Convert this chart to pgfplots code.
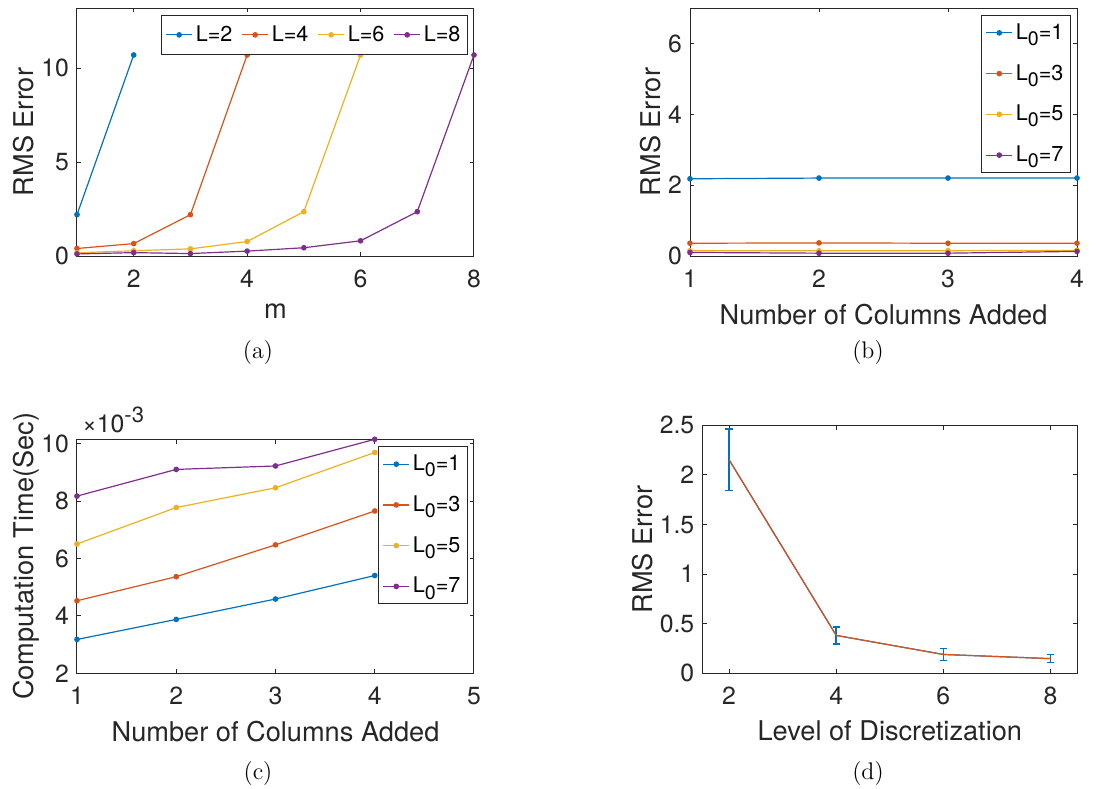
\documentclass[border=0pt]{standalone}
\usepackage{fontspec}
\newfontfamily\hel{TeX Gyre Heros}
\usepackage{pgfplots}
\pgfplotsset{compat=1.18}
\definecolor{mb}{HTML}{0072BD}
\definecolor{mo}{HTML}{D95319}
\definecolor{my}{HTML}{EDB120}
\definecolor{mp}{HTML}{7E2F8E}
\definecolor{axgray}{HTML}{262626}
\newcommand{\Lz}[1]{L\raisebox{-0.55ex}{\fontsize{9.8}{10}\selectfont 0}=#1}
\pgfplotsset{
  mat/.style={
    scale only axis,
    axis line style={axgray, line width=0.5pt},
    tick style={axgray, line width=0.5pt},
    tick align=inside,
    major tick length=2.2pt,
    xtick pos=both, ytick pos=both,
    tick label style={font=\hel\fontsize{12.4}{13}\selectfont, text=axgray},
    x tick label style={yshift=-3.5pt},
    y tick label style={xshift=-0.5pt},
    label style={font=\hel\fontsize{13.6}{15}\selectfont, text=axgray},
    xlabel style={yshift=-1pt},
    ylabel style={text depth=0pt, yshift=-3pt},
    /pgf/number format/assume math mode=true,
    scaled ticks=false,
    legend style={font=\hel\fontsize{10.8}{12}\selectfont, draw=axgray, line width=0.5pt, text=black, inner sep=2pt, nodes={inner xsep=1.5pt}},
    legend cell align=left,
    legend image code/.code={\draw[mark repeat=2,mark phase=2] plot coordinates {(0cm,0cm) (0.23cm,0cm) (0.46cm,0cm)};},
  },
  ln/.style={#1, line width=0.6pt, mark=*, mark size=1.1pt, mark options={solid, fill=#1, draw=#1}},
}
\begin{document}
\begin{tikzpicture}
\path[use as bounding box] (0,0) rectangle (552pt,-394pt);
% (a)
\begin{axis}[mat, at={(38.5pt,-128pt)}, anchor=south west, width=198.5pt, height=124pt,
  xmin=1, xmax=8, ymin=0, ymax=13.2, xtick={2,4,6,8}, ytick={0,5,10},
  xlabel={m}, ylabel={RMS Error},
  legend columns=4,
  legend style={at={(1,1)}, anchor=north east, xshift=-3pt, yshift=-3.5pt, inner ysep=3pt, /tikz/every even column/.append style={column sep=3pt}}]
\addplot[ln=mb] coordinates {(1,2.2) (2,10.7)};
\addlegendentry{L=2}
\addplot[ln=mo] coordinates {(1,0.4) (2,0.66) (3,2.2) (4,10.7)};
\addlegendentry{L=4}
\addplot[ln=my] coordinates {(1,0.17) (2,0.28) (3,0.38) (4,0.77) (5,2.36) (6,10.7)};
\addlegendentry{L=6}
\addplot[ln=mp] coordinates {(1,0.11) (2,0.18) (3,0.13) (4,0.26) (5,0.44) (6,0.81) (7,2.36) (8,10.7)};
\addlegendentry{L=8}
\end{axis}
% (b)
\begin{axis}[mat, at={(345pt,-128pt)}, anchor=south west, width=193.5pt, height=124pt,
  xmin=1, xmax=4, ymin=0, ymax=7, xtick={1,2,3,4}, ytick={0,2,4,6},
  xlabel={Number of Columns Added}, ylabel={RMS Error},
  legend style={at={(1,1)}, anchor=north east, xshift=-3pt, yshift=-3.5pt, row sep=7pt}]
\addplot[ln=mb] coordinates {(1,2.18) (2,2.2) (3,2.2) (4,2.2)};
\addlegendentry{\Lz{1}}
\addplot[ln=mo] coordinates {(1,0.36) (2,0.37) (3,0.36) (4,0.36)};
\addlegendentry{\Lz{3}}
\addplot[ln=my] coordinates {(1,0.15) (2,0.15) (3,0.15) (4,0.16)};
\addlegendentry{\Lz{5}}
\addplot[ln=mp] coordinates {(1,0.1) (2,0.08) (3,0.08) (4,0.13)};
\addlegendentry{\Lz{7}}
\end{axis}
% (c)
\begin{axis}[mat, name=c, at={(38.5pt,-336.65pt)}, anchor=south west, width=198.5pt, height=117pt,
  xmin=1, xmax=5, ymin=2, ymax=10.16, xtick={1,2,3,4,5}, ytick={2,4,6,8,10},
  xlabel={Number of Columns Added}, ylabel={Computation Time(Sec)},
  legend style={at={(1,1)}, anchor=north east, xshift=-3pt, yshift=-3.5pt, row sep=7pt}]
\addplot[ln=mb] coordinates {(1,3.18) (2,3.88) (3,4.59) (4,5.41)};
\addlegendentry{\Lz{1}}
\addplot[ln=mo] coordinates {(1,4.53) (2,5.37) (3,6.48) (4,7.66)};
\addlegendentry{\Lz{3}}
\addplot[ln=my] coordinates {(1,6.51) (2,7.78) (3,8.47) (4,9.70)};
\addlegendentry{\Lz{5}}
\addplot[ln=mp] coordinates {(1,8.18) (2,9.11) (3,9.23) (4,10.16)};
\addlegendentry{\Lz{7}}
\end{axis}
\node[anchor=south west, inner sep=0pt, text=axgray, font=\hel\fontsize{12.4}{13}\selectfont] at ([xshift=2.5pt,yshift=3pt]c.north west) {×10\raisebox{0.8ex}{\fontsize{11}{11}\selectfont -3}};
% (d)
\begin{axis}[mat, at={(351.15pt,-336.65pt)}, anchor=south west, width=187.5pt, height=124pt,
  xmin=1.5, xmax=8.5, ymin=0, ymax=2.5, xtick={2,4,6,8}, ytick={0,0.5,1,1.5,2,2.5},
  xlabel={Level of Discretization}, ylabel={RMS Error}]
\addplot[mb, line width=0.6pt, error bars/.cd, y dir=both, y explicit,
  error bar style={line width=0.8pt, mb}, error mark options={rotate=90, mb, line width=0.8pt, mark size=1.8pt}]
  coordinates {(2,2.153) +- (0,0.31) (4,0.382) +- (0,0.086) (6,0.19) +- (0,0.062) (8,0.148) +- (0,0.04)};
\addplot[mo, line width=0.6pt] coordinates {(2,2.153) (4,0.382) (6,0.19) (8,0.148)};
\end{axis}
% captions
\node[font=\fontsize{12}{14}\selectfont] at (129pt,-176.3pt) {(a)};
\node[font=\fontsize{12}{14}\selectfont] at (434pt,-176.3pt) {(b)};
\node[font=\fontsize{12}{14}\selectfont] at (129pt,-386.7pt) {(c)};
\node[font=\fontsize{12}{14}\selectfont] at (434pt,-386.7pt) {(d)};
\end{tikzpicture}
\end{document}
